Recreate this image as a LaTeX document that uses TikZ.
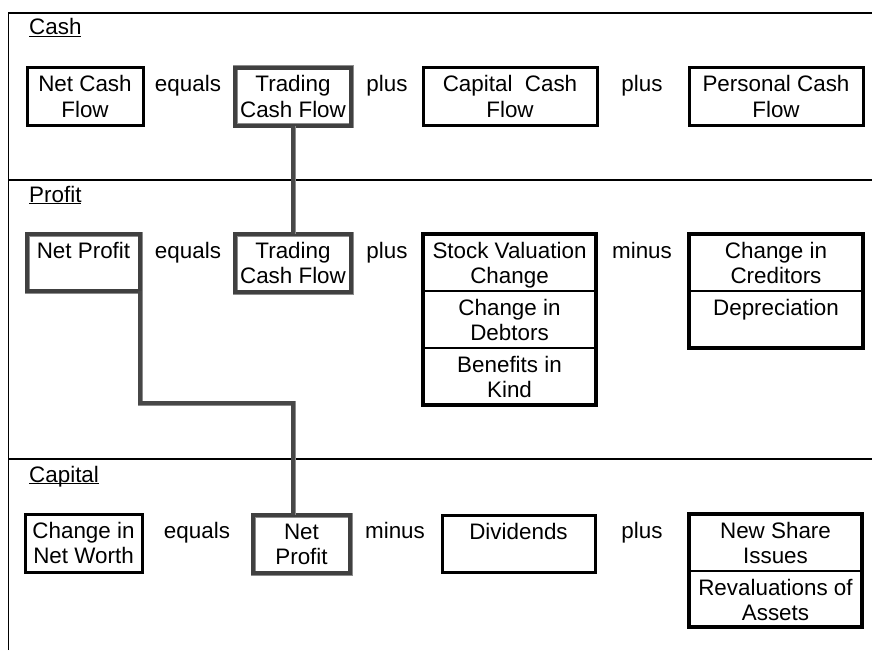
\documentclass[tikz,border=0pt]{standalone}
\usepackage{fontspec}
\setmainfont{Liberation Sans}
\usetikzlibrary{fit}
% top-aligned centred text block of given width/height (in pt)
\newcommand{\cellbox}[3]{\parbox[c][#2pt][t]{#1pt}{\centering\rule{0pt}{24pt}#3\par}}
\begin{document}
\begin{tikzpicture}[x=1pt,y=-1pt,
  font=\fontsize{22.4}{25}\selectfont,
  bx/.style={draw, line width=3pt, inner sep=0pt, outer sep=0pt, anchor=north west},
  gbx/.style={bx, draw=black!75, line width=3.6pt, preaction={draw=black!45, line width=5pt}},
  cell/.style={draw, line width=2pt, inner sep=0pt, outer sep=0pt, anchor=north west},
  stackbox/.style={draw, line width=3.2pt, inner sep=0pt},
  word/.style={anchor=base},
  sect/.style={anchor=base west, inner sep=0pt},
  conn/.style={draw=black!72, line width=3.6pt, preaction={draw=black!45, line width=5pt}},
  frame/.style={line width=1.4pt}]
\useasboundingbox (0,0) rectangle (872,650);

% frame and section dividers
\draw[frame] (8.5,650) -- (8.5,13) -- (872,13);
\draw[frame] (8.5,180) -- (872,180);
\draw[frame] (8.5,459) -- (872,459);

% section titles
\node[sect] (tcash) at (29,35) {\underline{Cash}};
\node[sect] (tprofit) at (29,202) {\underline{Profit}};
\node[sect] (tcapital) at (29,482) {\underline{\smash{Capital}}};

% ---- Cash row ----
\node[bx]  (ncf) at (27,68)  {\cellbox{116}{58}{Net Cash\\Flow}};
\node[gbx] (tcf) at (235,68) {\cellbox{116}{58}{Trading\\Cash Flow}};
\node[bx]  (ccf) at (423,68) {\cellbox{174}{58}{Capital~ Cash\\Flow}};
\node[bx]  (pcf) at (689,68) {\cellbox{174}{58}{Personal Cash\\Flow}};
\node[word] (eqa) at (188,92) {equals};
\node[word] (pla) at (387,92) {plus};
\node[word] (plb) at (642,92) {plus};

% ---- Profit row ----
\node[gbx] (np)   at (27,234)  {\cellbox{113}{57}{Net Profit}};
\node[gbx] (tcfp) at (235,234) {\cellbox{116}{58}{Trading\\Cash Flow}};
\node[cell] (svc) at (423,234) {\cellbox{173}{57}{Stock Valuation\\Change}};
\node[cell] (cid) at (423,291) {\cellbox{173}{57}{Change in\\Debtors}};
\node[cell] (bik) at (423,348) {\cellbox{173}{57}{Benefits in\\Kind}};
\node[stackbox, fit=(svc)(cid)(bik)] (stka) {};
\node[cell] (cic) at (689,234) {\cellbox{174}{57}{Change in\\Creditors}};
\node[cell] (dep) at (689,291) {\cellbox{174}{57}{Depreciation}};
\node[stackbox, fit=(cic)(dep)] (stkb) {};
\node[word] (eqb) at (188,258) {equals};
\node[word] (plc) at (387,258) {plus};
\node[word] (mia) at (642,258) {minus};

% ---- Capital row ----
\node[bx]  (cnw) at (25,514)  {\cellbox{117}{58}{Change in\\Net Worth}};
\node[gbx] (npc) at (253,515) {\cellbox{97}{58}{Net\\Profit}};
\node[bx]  (dvd) at (442,515) {\cellbox{153}{57}{Dividends}};
\node[cell] (nsi) at (689,514) {\cellbox{173}{57}{New Share\\Issues}};
\node[cell] (rev) at (689,571) {\cellbox{173}{56}{Revaluations of\\Assets}};
\node[stackbox, fit=(nsi)(rev)] (stkc) {};
\node[word] (eqc) at (197,538) {equals};
\node[word] (mib) at (395,538) {minus};
\node[word] (pld) at (642,538) {plus};

% ---- links between sections ----
\draw[conn] (tcf.south) -- (tcfp.north);
\coordinate (bend) at (293,403);
\draw[conn] (np.south east) |- (bend) -- (bend |- npc.north);
\end{tikzpicture}
\end{document}
